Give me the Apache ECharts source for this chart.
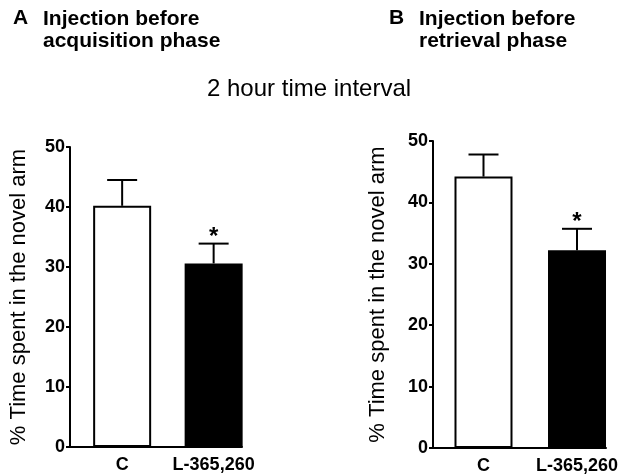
<!DOCTYPE html>
<html><head><meta charset="utf-8">
<script src="https://cdn.jsdelivr.net/npm/echarts@6/dist/echarts.min.js"></script>
<style>html,body{margin:0;padding:0;background:#fff}#c{width:622px;height:475px}</style>
</head><body><div id="c"></div>
<script>
const categories = ['C', 'L-365,260'];
const meanA = [40.2, 30.6];
const semA = [4.3, 3.3];
const meanB = [44.2, 32.2];
const semB = [3.6, 3.5];
const sig = ['', '*'];
const yTicks = [0, 10, 20, 30, 40, 50];
const titleA = ['A', 'Injection before', 'acquisition phase'];
const titleB = ['B', 'Injection before', 'retrieval phase'];
const subtitle = '2 hour time interval';
const yName = '% Time spent in the novel arm';

const FONT = 'Liberation Sans';
const chart = echarts.init(document.getElementById('c'), null, {renderer: 'canvas'});

function xAx(gi, min, max) {
  return {
    type: 'value', gridIndex: gi, min: min, max: max,
    splitLine: {show: false},
    axisLine: {show: true, onZero: false, lineStyle: {color: '#000', width: 2}},
    axisTick: {show: false},
    axisLabel: {
      customValues: categories.map((c, i) => i),
      formatter: v => categories[Math.round(v)] || '',
      color: '#000', fontFamily: FONT, fontWeight: 'bold', fontSize: 18, margin: 9
    }
  };
}
function yAx(gi, gap) {
  return {
    type: 'value', gridIndex: gi, min: yTicks[0], max: yTicks[yTicks.length - 1], interval: yTicks[1] - yTicks[0],
    splitLine: {show: false},
    axisLine: {show: true, onZero: false, lineStyle: {color: '#000', width: 2}},
    axisTick: {show: true, length: 4, lineStyle: {color: '#000', width: 2}},
    axisLabel: {color: '#000', fontFamily: FONT, fontWeight: 'bold', fontSize: 18, margin: 5},
    name: yName, nameLocation: 'middle', nameGap: gap, nameRotate: 90,
    nameTextStyle: {color: '#000', fontFamily: FONT, fontSize: 22}
  };
}
function bars(gi, means) {
  return {
    type: 'bar', xAxisIndex: gi, yAxisIndex: gi, barWidth: 58,
    data: means.map((m, i) => ({
      value: [i, m],
      itemStyle: {color: i === 0 ? '#fff' : '#000', borderColor: '#000', borderWidth: 2}
    })),
    z: 2
  };
}
function errs(gi, means, sems) {
  return {
    type: 'custom', xAxisIndex: gi, yAxisIndex: gi, z: 3,
    data: means.map((m, i) => [i, m, m + sems[i]]),
    renderItem: (params, api) => {
      const base = api.coord([api.value(0), api.value(1)]);
      const top = api.coord([api.value(0), api.value(2)]);
      const hw = 15;
      const st = {stroke: '#000', lineWidth: 2};
      const ch = [
        {type: 'line', shape: {x1: base[0], y1: base[1], x2: top[0], y2: top[1]}, style: st},
        {type: 'line', shape: {x1: top[0] - hw, y1: top[1], x2: top[0] + hw, y2: top[1]}, style: st}
      ];
      const s = sig[params.dataIndex];
      if (s) ch.push({type: 'text', x: top[0], y: top[1] + 6, style: {
        text: s, fill: '#000', font: 'bold 24px "' + FONT + '"', align: 'center', verticalAlign: 'bottom'}});
      return {type: 'group', children: ch};
    }
  };
}
function titleText(t, x, y) {
  const f = 'bold 21px "' + FONT + '"';
  return [
    {type: 'text', left: x, top: y, style: {text: t[0], fill: '#000', font: f}},
    {type: 'text', left: x + 30, top: y, style: {text: t[1] + '\n' + t[2], fill: '#000', font: f, lineHeight: 22}}
  ];
}

chart.setOption({
  backgroundColor: '#fff',
  animation: false,
  grid: [
    {left: 70, top: 147, width: 172, height: 300},
    {left: 433, top: 141, width: 173, height: 307}
  ],
  xAxis: [xAx(0, -0.57, 1.31), xAx(1, -0.54, 1.31)],
  yAxis: [yAx(0, 40), yAx(1, 44)],
  series: [bars(0, meanA), errs(0, meanA, semA), bars(1, meanB), errs(1, meanB, semB)],
  graphic: [
    ...titleText(titleA, 13, 8),
    ...titleText(titleB, 389, 8),
    {type: 'text', left: 207, top: 77, style: {text: subtitle, fill: '#000', font: '24px "' + FONT + '"'}}
  ]
});
</script>
</body></html>
